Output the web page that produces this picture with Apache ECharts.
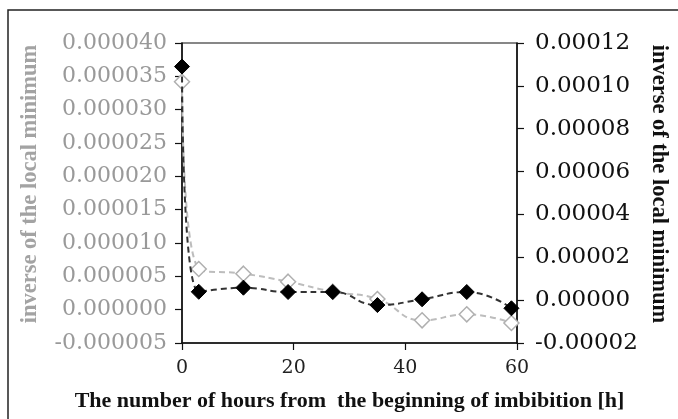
<!DOCTYPE html>
<html>
<head>
<meta charset="utf-8">
<script src="https://cdn.jsdelivr.net/npm/echarts@6/dist/echarts.min.js"></script>
<style>html,body{margin:0;padding:0;background:#fff}#c{width:678px;height:419px}</style>
</head>
<body>
<div id="c"></div>
<script>
// hours from the beginning of imbibition
const hours = [0, 3, 11, 19, 27, 35, 43, 51, 59];
// grey open diamonds (left axis)
const greySeries = [0.0000342, 0.0000061, 0.0000054, 0.0000042, 0.0000027, 0.0000016, -0.0000016, -0.0000007, -0.0000020];
// black filled diamonds (right axis)
const blackSeries = [0.000109, 0.0000039, 0.0000058, 0.0000038, 0.0000038, -0.0000023, 0.0000004, 0.0000038, -0.0000038];
const xTicks = [0, 20, 40, 60];
const leftTicks = [-0.000005, 0.00004, 0.000005];   // min, max, step
const rightTicks = [-0.00002, 0.00012, 0.00002];    // min, max, step
const xTitle = 'The number of hours from  the beginning of imbibition [h]';
const yTitle = 'inverse of the local minimum';

const chart = echarts.init(document.getElementById('c'), null, {renderer: 'canvas'});
const fmt = (v, d) => (Math.abs(v) < 1e-12 ? 0 : v).toFixed(d);
const serif = 'DejaVu Serif';
chart.setOption({
  backgroundColor: '#ffffff',
  animation: false,
  grid: {left: 182, right: 161, top: 43, bottom: 76, show: true, borderColor: '#111', borderWidth: 1.2, backgroundColor: 'transparent'},
  graphic: [
    {type: 'rect', shape: {x: 8, y: 10, width: 700, height: 430}, style: {fill: 'none', stroke: '#222', lineWidth: 1.5}, silent: true},
    {type: 'text', x: 30, y: 184, rotation: Math.PI / 2,
     style: {text: yTitle, font: 'bold 22.5px "Liberation Serif"', fill: '#a3a3a3', align: 'center', verticalAlign: 'middle'}},
    {type: 'text', x: 659, y: 184, rotation: -Math.PI / 2,
     style: {text: yTitle, font: 'bold 22.5px "Liberation Serif"', fill: '#111', align: 'center', verticalAlign: 'middle'}}
  ],
  xAxis: {
    type: 'value', min: xTicks[0], max: xTicks[xTicks.length - 1], interval: xTicks[1] - xTicks[0],
    splitLine: {show: false},
    axisLine: {show: true, onZero: false, lineStyle: {color: '#111', width: 1.5}},
    axisTick: {show: true, length: 7, inside: false, lineStyle: {color: '#111', width: 1.2}},
    axisLabel: {margin: 16, fontFamily: serif, fontSize: 19, color: '#222'},
    name: xTitle, nameLocation: 'middle', nameGap: 47,
    nameTextStyle: {fontFamily: 'Liberation Serif', fontWeight: 'bold', fontSize: 22, color: '#111'}
  },
  yAxis: [
    {
      type: 'value', position: 'left', min: leftTicks[0], max: leftTicks[1], interval: leftTicks[2],
      splitLine: {show: false},
      axisLine: {show: true, onZero: false, lineStyle: {color: '#111', width: 1.5}},
      axisTick: {show: true, length: 7, lineStyle: {color: '#111', width: 1.2}},
      axisLabel: {margin: 15, fontFamily: serif, fontSize: 22, color: '#999999', formatter: v => fmt(v, 6)}
    },
    {
      type: 'value', position: 'right', min: rightTicks[0], max: rightTicks[1], interval: rightTicks[2],
      splitLine: {show: false},
      axisLine: {show: true, onZero: false, lineStyle: {color: '#111', width: 1.5}},
      axisTick: {show: true, length: 7, lineStyle: {color: '#111', width: 1.2}},
      axisLabel: {margin: 18, fontFamily: serif, fontSize: 23, color: '#111', formatter: v => fmt(v, 5)}
    }
  ],
  series: [
    {
      type: 'line', yAxisIndex: 0, smooth: 0.5, z: 2,
      data: hours.map((h, i) => [h, greySeries[i]]),
      symbol: 'diamond', symbolSize: 15,
      itemStyle: {color: '#ffffff', borderColor: '#b0b0b0', borderWidth: 1.5},
      lineStyle: {color: '#bdbdbd', width: 2, type: [6, 4]}
    },
    {
      type: 'line', yAxisIndex: 1, smooth: 0.5, z: 3,
      data: hours.map((h, i) => [h, blackSeries[i]]),
      symbol: 'diamond', symbolSize: 15,
      itemStyle: {color: '#000', borderColor: '#000', borderWidth: 1},
      lineStyle: {color: '#333', width: 2, type: [6, 4]}
    }
  ]
});
</script>
</body>
</html>
